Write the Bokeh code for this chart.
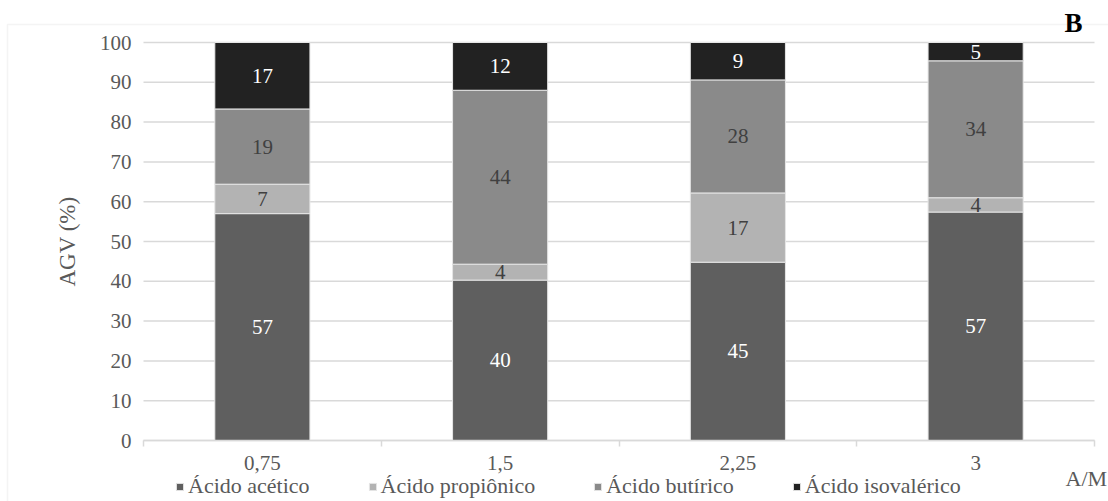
from bokeh.plotting import figure
from bokeh.models import (ColumnDataSource, Range1d, FixedTicker, Legend, LegendItem,
                          Label, BoxAnnotation)
from bokeh.core.properties import value
from bokeh.embed import file_html
from bokeh.resources import INLINE

categories = ["0,75", "1,5", "2,25", "3"]
series_names = ["Ácido acético", "Ácido propiônico", "Ácido butírico", "Ácido isovalérico"]
acetico = [57.0, 40.3, 44.8, 57.4]
propionico = [7.4, 4.0, 17.4, 3.6]
butirico = [18.9, 43.7, 28.4, 34.4]
isovalerico = [16.7, 12.0, 9.4, 4.6]
y_ticks = [0, 10, 20, 30, 40, 50, 60, 70, 80, 90, 100]

colors = ["#5f5f5f", "#b3b3b3", "#8a8a8a", "#222222"]
label_colors = ["#ffffff", "#404040", "#404040", "#ffffff"]
FONT = "Liberation Serif"
GRAY = "#595959"
LINE = "#d9d9d9"

# layout (pixels) -> the frame covers the whole canvas; axes are fixed inside it
W, H = 1108, 501
PL, PR, PT, PB = 143, 1094, 42, 440
n = len(categories)
YMAX = y_ticks[-1]
sx = (PR - PL) / n
sy = (PB - PT) / YMAX
def dx(px):
    return (px - PL) / sx
def dy(py):
    return (PB - py) / sy

series = [acetico, propionico, butirico, isovalerico]
keys = ["acetico", "propionico", "butirico", "isovalerico"]
x = [i + 0.5 for i in range(n)]
data = {"x": x}
for k, s in zip(keys, series):
    data[k] = s
source = ColumnDataSource(data)

p = figure(width=W, height=H, output_backend="svg", toolbar_location=None,
           x_range=Range1d(dx(0), dx(W)), y_range=Range1d(dy(H), dy(0)),
           min_border=0, min_border_left=0, min_border_right=0,
           min_border_top=0, min_border_bottom=0)
p.outline_line_color = None
p.background_fill_color = "white"
p.border_fill_color = "white"

# outer chart border (top & left visible)
p.add_layout(BoxAnnotation(left=dx(7), right=dx(W + 50), top=dy(24), bottom=dy(H + 50),
                           fill_alpha=0, line_color=LINE, line_width=1.5, level="underlay"))

# horizontal gridlines spanning the category area only
p.segment(x0=[0] * len(y_ticks), x1=[n] * len(y_ticks), y0=y_ticks, y1=y_ticks,
          line_color=LINE, line_width=1.5, level="underlay")
p.xgrid.grid_line_color = None
p.ygrid.grid_line_color = None

renderers = p.vbar_stack(keys, x="x", width=0.4, color=colors, source=source,
                         line_color="#e6e6e6", line_width=1)

# data labels
bottom = [0.0] * n
for s, c in zip(series, label_colors):
    mids = [b + v / 2 for b, v in zip(bottom, s)]
    txt = [str(int(v + 0.5)) for v in s]
    p.text(x=x, y=mids, text=txt, text_align="center", text_baseline="middle",
           text_font=value(FONT), text_font_size="21px", text_color=c)
    bottom = [b + v for b, v in zip(bottom, s)]

# y axis
yax = p.yaxis[0]
yax.fixed_location = 0
yax.bounds = (0, YMAX)
yax.ticker = FixedTicker(ticks=y_ticks)
yax.axis_line_color = None
yax.major_tick_line_color = None
yax.minor_tick_line_color = None
yax.major_label_text_font = FONT
yax.major_label_text_font_size = "21px"
yax.major_label_text_color = GRAY
yax.major_label_standoff = 6
yax.axis_label = "AGV (%)"
yax.axis_label_text_font = FONT
yax.axis_label_text_font_size = "23px"
yax.axis_label_text_font_style = "normal"
yax.axis_label_text_color = GRAY
yax.axis_label_standoff = 17

# x axis
xax = p.xaxis[0]
xax.fixed_location = 0
xax.bounds = (0, n)
xax.ticker = FixedTicker(ticks=x, minor_ticks=[float(i) for i in range(n + 1)])
xax.major_label_overrides = {xi: c for xi, c in zip(x, categories)}
xax.axis_line_color = LINE
xax.axis_line_width = 1.5
xax.major_tick_line_color = None
xax.minor_tick_line_color = LINE
xax.minor_tick_line_width = 1.5
xax.minor_tick_out = 6
xax.minor_tick_in = 0
xax.major_tick_out = 0
xax.major_tick_in = 0
xax.major_label_text_font = FONT
xax.major_label_text_font_size = "21px"
xax.major_label_text_color = GRAY
xax.major_label_standoff = 9

legend = Legend(items=[LegendItem(label=nm, renderers=[r]) for nm, r in zip(series_names, renderers)],
                orientation="horizontal", location=(175, 2),
                label_text_font=FONT, label_text_font_size="22px", label_text_color=GRAY,
                glyph_width=9, glyph_height=9, label_standoff=4, spacing=58,
                padding=0, margin=0, border_line_color=None, background_fill_alpha=0)
p.add_layout(legend, "center")

p.add_layout(Label(x=dx(1065), y=dy(478), text="A/M",
                   text_font=FONT, text_font_size="22px", text_color=GRAY,
                   text_baseline="middle", text_align="left"))
p.add_layout(Label(x=dx(1073), y=dy(22), text="B",
                   text_font=FONT, text_font_size="27px", text_font_style="bold",
                   text_color="black", text_baseline="middle", text_align="center"))

open("out.html", "w").write(file_html(p, INLINE))
